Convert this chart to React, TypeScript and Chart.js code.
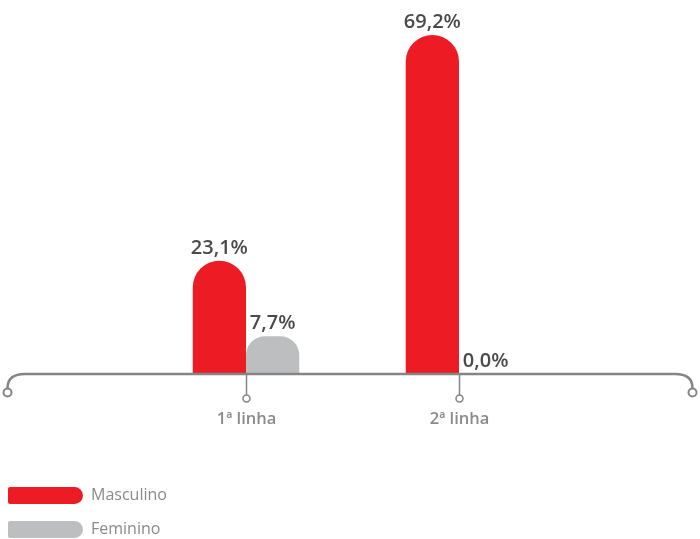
import React, { useEffect, useRef } from "react";
import { Chart, registerables } from "chart.js";

Chart.register(...registerables);

const categories = ["1ª linha", "2ª linha"];
const masculino = [23.1, 69.2];
const feminino = [7.7, 0.0];
const seriesNames = ["Masculino", "Feminino"];
const colors = ["#ED1C24", "#BCBEC0"];

const FONT = "'Open Sans', 'Noto Sans', sans-serif";

const fmt = (v: number) => v.toFixed(1).replace(".", ",") + "%";

const decorPlugin = {
  id: "decor",
  afterDatasetsDraw(chart: any) {
    const ctx = chart.ctx as CanvasRenderingContext2D;
    const xs = chart.scales.x;
    const ys = chart.scales.y;
    const zeroY = ys.getPixelForValue(0);
    const W = chart.width;

    // axis line with curled ends
    ctx.save();
    ctx.strokeStyle = "#858585";
    ctx.lineWidth = 2.5;
    ctx.beginPath();
    ctx.moveTo(7.5, zeroY + 14);
    ctx.quadraticCurveTo(7.5, zeroY, 25, zeroY);
    ctx.lineTo(W - 25, zeroY);
    ctx.quadraticCurveTo(W - 7.5, zeroY, W - 7.5, zeroY + 14);
    ctx.stroke();
    ctx.lineWidth = 2;
    ctx.fillStyle = "#fff";
    for (const cx of [7.5, W - 7.5]) {
      ctx.beginPath();
      ctx.arc(cx, zeroY + 18.5, 4, 0, Math.PI * 2);
      ctx.fill();
      ctx.stroke();
    }
    // category ticks
    ctx.lineWidth = 1.5;
    categories.forEach((c, i) => {
      const x = Math.round(xs.getPixelForValue(i)) + 0.5;
      ctx.beginPath();
      ctx.moveTo(x, zeroY);
      ctx.lineTo(x, zeroY + 21);
      ctx.stroke();
      ctx.beginPath();
      ctx.arc(x, zeroY + 24.5, 3.5, 0, Math.PI * 2);
      ctx.fill();
      ctx.stroke();
      ctx.fillStyle = "#8a8a8a";
      ctx.font = `600 16.5px ${FONT}`;
      ctx.textAlign = "center";
      ctx.textBaseline = "middle";
      ctx.fillText(c, x, zeroY + 45);
      ctx.fillStyle = "#fff";
    });
    ctx.restore();

    // value labels
    ctx.save();
    ctx.fillStyle = "#4a4a4a";
    ctx.font = `600 20px ${FONT}`;
    ctx.textAlign = "center";
    ctx.textBaseline = "bottom";
    chart.data.datasets.forEach((ds: any, di: number) => {
      const meta = chart.getDatasetMeta(di);
      meta.data.forEach((el: any, i: number) => {
        ctx.fillText(fmt(ds.data[i]), el.x, el.y - 3);
      });
    });
    ctx.restore();

    // legend
    ctx.save();
    chart.data.datasets.forEach((ds: any, di: number) => {
      const y = 487 + di * 34;
      ctx.fillStyle = ds.backgroundColor;
      ctx.beginPath();
      (ctx as any).roundRect(8, y, 75, 17, [2, 8.5, 8.5, 2]);
      ctx.fill();
      ctx.fillStyle = "#8a8a8a";
      ctx.font = `16px ${FONT}`;
      ctx.textAlign = "left";
      ctx.textBaseline = "middle";
      ctx.fillText(ds.label, 91, y + 8.5);
    });
    ctx.restore();
  },
};

export default function App() {
  const ref = useRef<HTMLCanvasElement>(null);
  useEffect(() => {
    if (!ref.current) return;
    const chart = new Chart(ref.current, {
      type: "bar",
      data: {
        labels: categories,
        datasets: [
          {
            label: seriesNames[0],
            data: masculino,
            backgroundColor: colors[0],
            borderRadius: { topLeft: 27, topRight: 27, bottomLeft: 0, bottomRight: 0 },
            borderSkipped: "bottom",
          },
          {
            label: seriesNames[1],
            data: feminino,
            backgroundColor: colors[1],
            borderRadius: { topLeft: 27, topRight: 27, bottomLeft: 0, bottomRight: 0 },
            borderSkipped: "bottom",
          },
        ],
      },
      options: {
        animation: false,
        responsive: true,
        maintainAspectRatio: false,
        layout: { padding: { left: 139.5, right: 134.5, top: 31, bottom: 165 } },
        datasets: { bar: { categoryPercentage: 0.5, barPercentage: 1 } },
        scales: {
          x: { display: false },
          y: { display: false, min: 0, max: 70 },
        },
        plugins: { legend: { display: false }, tooltip: { enabled: false } },
      },
      plugins: [decorPlugin],
    });
    return () => chart.destroy();
  }, []);
  return (
    <div style={{ position: "fixed", left: 0, top: 0, width: 700, height: 539, background: "#fff" }}>
      <canvas ref={ref} />
    </div>
  );
}
